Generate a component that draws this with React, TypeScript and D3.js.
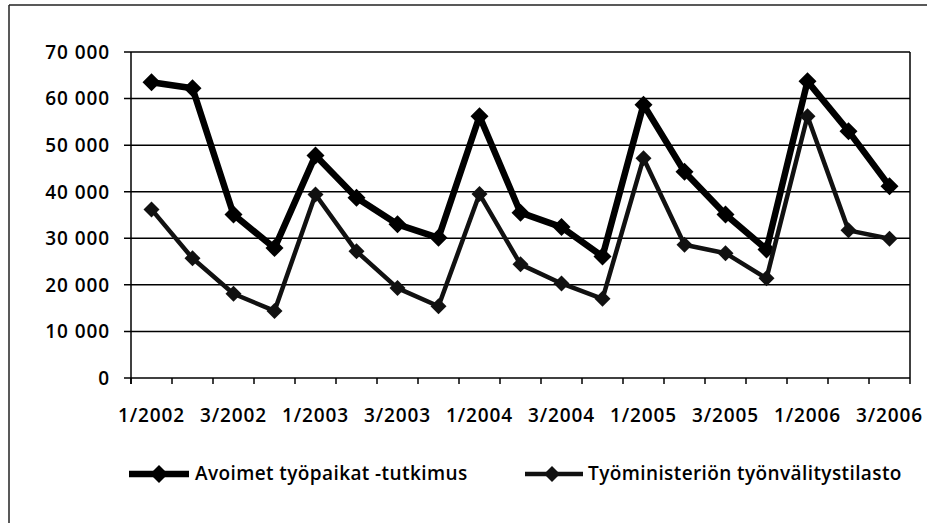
import React from "react";
import * as d3 from "d3";

const categories = [
  "1/2002", "2/2002", "3/2002", "4/2002",
  "1/2003", "2/2003", "3/2003", "4/2003",
  "1/2004", "2/2004", "3/2004", "4/2004",
  "1/2005", "2/2005", "3/2005", "4/2005",
  "1/2006", "2/2006", "3/2006",
];
const avoimet = [
  63500, 62200, 35100, 27900,
  47800, 38700, 33000, 30100,
  56200, 35500, 32400, 26100,
  58700, 44300, 35100, 27600,
  63700, 53000, 41200,
];
const tyoministerio = [
  36200, 25700, 18100, 14400,
  39400, 27200, 19300, 15400,
  39500, 24400, 20300, 17000,
  47200, 28600, 26800, 21400,
  56200, 31700, 29900,
];
const yTicks = [0, 10000, 20000, 30000, 40000, 50000, 60000, 70000];
const seriesNames = ["Avoimet työpaikat -tutkimus", "Työministeriön työnvälitystilasto"];

const W = 943, H = 523;
const plot = { left: 131, right: 910, top: 52, bottom: 378 };
const FONT = "'Open Sans', 'Noto Sans', sans-serif";

function diamond(cx: number, cy: number, r: number) {
  return `M${cx},${cy - r}L${cx + r},${cy}L${cx},${cy + r}L${cx - r},${cy}Z`;
}

export default function App() {
  const x = d3.scaleBand<string>().domain(categories).range([plot.left, plot.right]).padding(0);
  const y = d3.scaleLinear().domain([0, 70000]).range([plot.bottom, plot.top]);
  const cx = (c: string) => (x(c) as number) + x.bandwidth() / 2;
  const fmt = (v: number) => d3.format(",")(v).replace(/,/g, " ");
  const line = d3.line<number>().x((_, i) => cx(categories[i])).y((d) => y(d));

  const boundaries = categories.map((c) => x(c) as number).concat([plot.right]);

  const series = [
    { name: seriesNames[0], data: avoimet, color: "#000", width: 6.5, r: 9 },
    { name: seriesNames[1], data: tyoministerio, color: "#111", width: 4.5, r: 8 },
  ];

  const textProps = { fontSize: 19, fontWeight: 600, fill: "#000", letterSpacing: 0.4 };

  return (
    <svg width={W} height={H} style={{ position: "absolute", left: 0, top: 0, background: "#fff" }} fontFamily={FONT}>
      <rect x={0} y={0} width={W} height={H} fill="#fff" />
      {/* outer frame */}
      <line x1={9} y1={5} x2={927} y2={5} stroke="#222" strokeWidth={1.5} />
      <line x1={9} y1={5} x2={9} y2={H} stroke="#222" strokeWidth={1.5} />

      {/* gridlines */}
      {yTicks.map((t) => (
        <line key={t} x1={plot.left - 7} x2={plot.right} y1={y(t)} y2={y(t)} stroke="#000" strokeWidth={1.5} />
      ))}
      <line x1={plot.right} x2={plot.right} y1={plot.top} y2={plot.bottom} stroke="#000" strokeWidth={1.5} />
      <line x1={plot.left} x2={plot.left} y1={plot.top} y2={plot.bottom + 6} stroke="#000" strokeWidth={1.5} />
      {boundaries.map((b, i) => (
        <line key={i} x1={b} x2={b} y1={plot.bottom} y2={plot.bottom + 6} stroke="#000" strokeWidth={1.5} />
      ))}
      {yTicks.map((t) => (
        <text key={t} x={110} y={y(t)} dy="0.36em" textAnchor="end" {...textProps} letterSpacing={0.9}>
          {fmt(t)}
        </text>
      ))}
      {categories.map((c, i) =>
        i % 2 === 0 ? (
          <text key={c} x={cx(c)} y={422} textAnchor="middle" {...textProps} letterSpacing={0.9}>
            {c}
          </text>
        ) : null
      )}

      {series.map((s) => (
        <g key={s.name}>
          <path d={line(s.data) as string} fill="none" stroke={s.color} strokeWidth={s.width} strokeLinejoin="round" />
          {s.data.map((v, i) => (
            <path key={i} d={diamond(cx(categories[i]), y(v), s.r)} fill={s.color} />
          ))}
        </g>
      ))}

      <g>
        <line x1={129} x2={189} y1={474} y2={474} stroke="#000" strokeWidth={6.5} />
        <path d={diamond(159, 474, 9)} fill="#000" />
        <text x={195} y={473} dy="0.36em" {...textProps}>{seriesNames[0]}</text>
        <line x1={525} x2={583} y1={474} y2={474} stroke="#111" strokeWidth={4.5} />
        <path d={diamond(552, 474, 8)} fill="#111" />
        <text x={588} y={473} dy="0.36em" {...textProps}>{seriesNames[1]}</text>
      </g>
    </svg>
  );
}
